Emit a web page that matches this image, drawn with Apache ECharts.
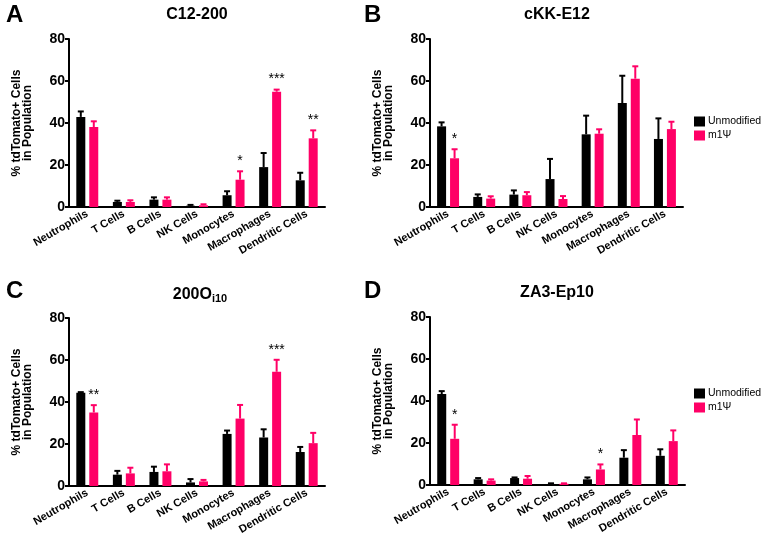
<!DOCTYPE html>
<html>
<head>
<meta charset="utf-8">
<script src="https://cdn.jsdelivr.net/npm/echarts@6/dist/echarts.min.js"></script>
<style>
  html, body { margin: 0; padding: 0; background: #fff; }
  #main { width: 763px; height: 540px; }
</style>
</head>
<body>
<div id="main"></div>
<script>
"use strict";

// 细胞类别
let cats = ['Neutrophils', 'T Cells', 'B Cells', 'NK Cells', 'Monocytes', 'Macrophages', 'Dendritic Cells'];

// A: C12-200
let unmodA = [42.9, 2.4, 3.5, 0.6, 5.6, 19.0, 12.7];
let unmodErrA = [45.5, 3.0, 4.6, 1.0, 7.5, 25.7, 16.3];
let m1A = [38.1, 2.4, 3.5, 0.8, 13.0, 54.9, 32.7];
let m1ErrA = [40.8, 3.2, 4.6, 1.3, 17.0, 55.9, 36.5];
let sigA = ['', '', '', '', '*', '***', '**'];

// B: cKK-E12
let unmodB = [38.4, 4.8, 5.9, 13.3, 34.6, 49.5, 32.4];
let unmodErrB = [40.3, 6.0, 7.9, 22.9, 43.5, 62.5, 42.2];
let m1B = [23.2, 4.0, 5.6, 3.8, 34.9, 61.1, 37.1];
let m1ErrB = [27.5, 5.1, 7.1, 5.2, 37.0, 67.0, 40.6];
let sigB = ['*', '', '', '', '', '', ''];

// C: 200Oi10
let unmodC = [44.4, 5.4, 6.7, 1.7, 24.8, 23.1, 16.2];
let unmodErrC = [44.7, 7.2, 9.2, 3.3, 26.4, 27.0, 18.6];
let m1C = [35.0, 6.0, 7.0, 2.2, 32.1, 54.4, 20.4];
let m1ErrC = [38.5, 8.7, 10.3, 2.9, 38.6, 60.1, 25.3];
let sigC = ['**', '', '', '', '', '***', ''];

// D: ZA3-Ep10
let unmodD = [43.3, 2.7, 3.3, 0.5, 2.7, 13.0, 13.9];
let unmodErrD = [44.7, 3.3, 3.6, 0.8, 3.6, 16.6, 17.0];
let m1D = [22.0, 2.1, 3.0, 0.6, 7.4, 23.8, 20.9];
let m1ErrD = [28.7, 2.7, 4.3, 0.8, 9.8, 31.2, 26.0];
let sigD = ['*', '', '', '', '*', '', ''];

let yTicks = [0, 20, 40, 60, 80];

let BLACK = '#000000';
let PINK = '#ff0066';
let FONT = 'Arial, "Liberation Sans", Helvetica, sans-serif';

let panels = [
  { title: 'C12-200', letter: 'A', unmod: unmodA, unmodErr: unmodErrA, m1: m1A, m1Err: m1ErrA, sig: sigA,
    grid: { left: 69, top: 39, width: 256, height: 168 }, tx: 197, ty: 7, lx: 6, ly: 3 },
  { title: 'cKK-E12', letter: 'B', unmod: unmodB, unmodErr: unmodErrB, m1: m1B, m1Err: m1ErrB, sig: sigB,
    grid: { left: 430, top: 39, width: 253, height: 168 }, tx: 557, ty: 7, lx: 364, ly: 3 },
  { title: '200O{sub|i10}', letter: 'C', unmod: unmodC, unmodErr: unmodErrC, m1: m1C, m1Err: m1ErrC, sig: sigC,
    grid: { left: 69, top: 318, width: 256, height: 168 }, tx: 200, ty: 285, lx: 6, ly: 279 },
  { title: 'ZA3-Ep10', letter: 'D', unmod: unmodD, unmodErr: unmodErrD, m1: m1D, m1Err: m1ErrD, sig: sigD,
    grid: { left: 430, top: 317, width: 255, height: 168 }, tx: 557, ty: 285, lx: 364, ly: 279 },
];

// 误差线 + 显著性星号
function errRender(offset, color, sig) {
  return function (params, api) {
    let base = api.coord([api.value(0), api.value(1)]);
    let top = api.coord([api.value(0), api.value(2)]);
    let x = base[0] + offset;
    let children = [
      { type: 'line', shape: { x1: x, y1: base[1], x2: x, y2: top[1] }, style: { stroke: color, lineWidth: 2 } },
      { type: 'line', shape: { x1: x - 3, y1: top[1], x2: x + 3, y2: top[1] }, style: { stroke: color, lineWidth: 2 } },
    ];
    if (sig && sig[params.dataIndex]) {
      children.push({
        type: 'text',
        style: { text: sig[params.dataIndex], x: x, y: top[1] - 3, align: 'center', verticalAlign: 'bottom',
          fill: '#000', font: '14px ' + FONT },
      });
    }
    return { type: 'group', children: children };
  };
}

let myChart = echarts.init(document.getElementById('main'));

let titles = [], grids = [], xAxes = [], yAxes = [], series = [];

panels.forEach(function (p, i) {
  titles.push({
    text: p.title, left: p.tx, top: p.ty, textAlign: 'center', padding: 0,
    textStyle: { fontFamily: FONT, fontWeight: 'bold', fontSize: 16, color: '#000',
      rich: { sub: { fontFamily: FONT, fontWeight: 'bold', fontSize: 11, verticalAlign: 'bottom', padding: [8, 0, 0, 0] } } },
  });
  titles.push({
    text: p.letter, left: p.lx, top: p.ly, padding: 0,
    textStyle: { fontFamily: FONT, fontWeight: 'bold', fontSize: 24, color: '#000' },
  });
  grids.push(p.grid);
  xAxes.push({
    type: 'category', gridIndex: i, data: cats,
    axisLine: { lineStyle: { color: '#000', width: 2 } },
    axisTick: { alignWithLabel: true, length: 4, lineStyle: { color: '#000', width: 2 } },
    axisLabel: { interval: 0, rotate: 30, margin: 6, color: '#000', fontFamily: FONT, fontWeight: 'bold', fontSize: 11 },
  });
  yAxes.push({
    type: 'value', gridIndex: i, min: yTicks[0], max: yTicks[yTicks.length - 1], interval: 20,
    name: '% tdTomato+ Cells\nin Population', nameLocation: 'middle', nameGap: 36,
    nameTextStyle: { fontFamily: FONT, fontWeight: 'bold', fontSize: 12, color: '#000', lineHeight: 11 },
    axisLine: { show: true, lineStyle: { color: '#000', width: 2 } },
    axisTick: { show: true, length: 4, lineStyle: { color: '#000', width: 2 } },
    axisLabel: { margin: 4, color: '#000', fontFamily: FONT, fontWeight: 'bold', fontSize: 14 },
    splitLine: { show: false },
  });
  series.push({
    name: 'Unmodified', type: 'bar', xAxisIndex: i, yAxisIndex: i, data: p.unmod,
    barWidth: 9, barGap: '44%', itemStyle: { color: BLACK },
  });
  series.push({
    name: 'm1Ψ', type: 'bar', xAxisIndex: i, yAxisIndex: i, data: p.m1,
    barWidth: 9, barGap: '44%', itemStyle: { color: PINK },
  });
  series.push({
    type: 'custom', xAxisIndex: i, yAxisIndex: i, clip: false, z: 3,
    renderItem: errRender(-6.5, BLACK, null),
    data: p.unmod.map(function (v, k) { return [k, v, p.unmodErr[k]]; }),
  });
  series.push({
    type: 'custom', xAxisIndex: i, yAxisIndex: i, clip: false, z: 3,
    renderItem: errRender(6.5, PINK, p.sig),
    data: p.m1.map(function (v, k) { return [k, v, p.m1Err[k]]; }),
  });
});

let legendBase = {
  orient: 'vertical', left: 689, itemWidth: 11, itemHeight: 10, itemGap: 3, icon: 'rect',
  data: ['Unmodified', 'm1Ψ'], selectedMode: false,
  textStyle: { fontFamily: FONT, fontSize: 10.5, color: '#000', padding: [0, 0, 0, -2] },
};

let option = {
  backgroundColor: '#fff',
  animation: false,
  title: titles,
  legend: [
    Object.assign({}, legendBase, { top: 111 }),
    Object.assign({}, legendBase, { top: 383 }),
  ],
  grid: grids,
  xAxis: xAxes,
  yAxis: yAxes,
  series: series,
};

myChart.setOption(option);
</script>
</body>
</html>
